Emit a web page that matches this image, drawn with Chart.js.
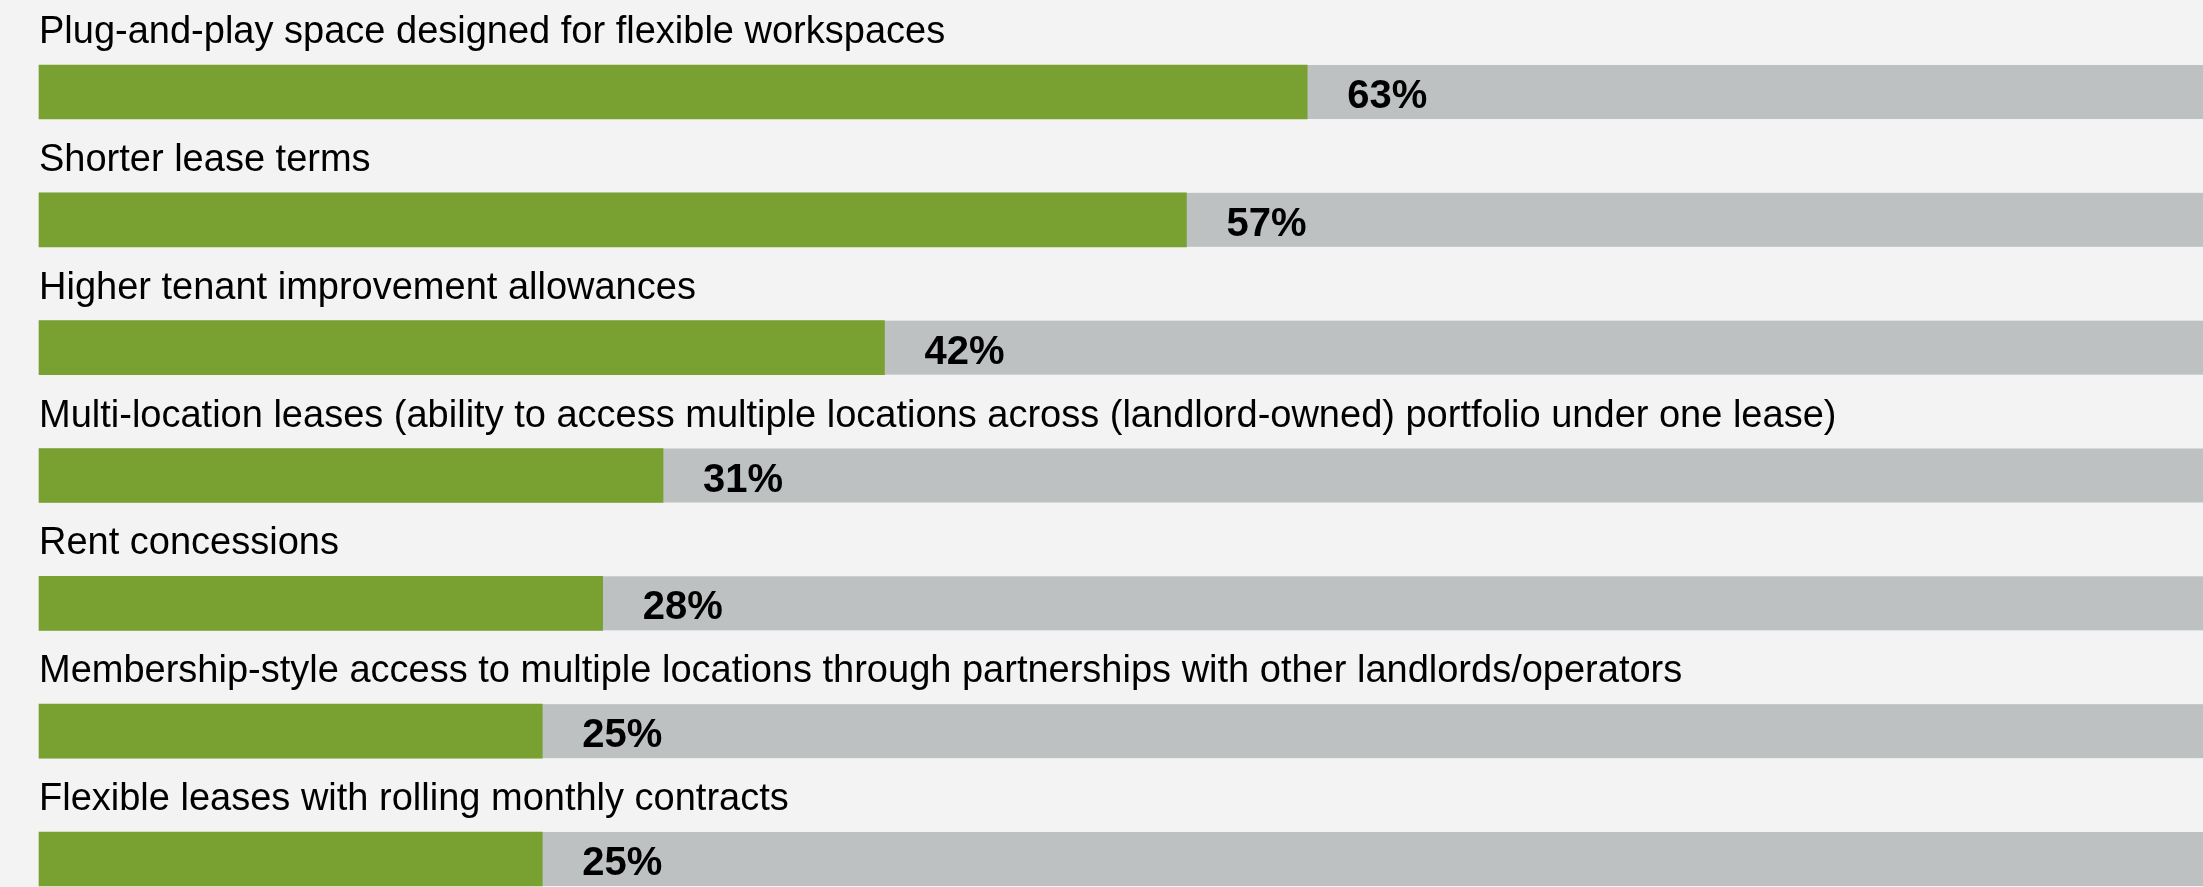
<!DOCTYPE html>
<html>
<head>
<meta charset="utf-8">
<script src="https://cdn.jsdelivr.net/npm/chart.js@4/dist/chart.umd.min.js"></script>
<style>
    html, body { margin: 0; padding: 0; background: #f3f3f3; overflow: hidden; }
    #wrap { width: 2203px; height: 887px; }
</style>
</head>
<body>
<div id="wrap"><canvas id="bars" width="2203" height="887"></canvas></div>
<script>
const categories = [
    'Plug-and-play space designed for flexible workspaces',
    'Shorter lease terms',
    'Higher tenant improvement allowances',
    'Multi-location leases (ability to access multiple locations across (landlord-owned) portfolio under one lease)',
    'Rent concessions',
    'Membership-style access to multiple locations through partnerships with other landlords/operators',
    'Flexible leases with rolling monthly contracts'
];
const shares = [63, 57, 42, 31, 28, 25, 25];
const valueLabels = ['63%', '57%', '42%', '31%', '28%', '25%', '25%'];

const GREEN = '#78a132';
const TRACK = '#bdc1c2';
const FONT = '"Liberation Sans", Arial, Helvetica, sans-serif';
const BAR_H = 54;

// grey track behind every bar, running to the right edge of the chart area
const trackPlugin = {
    id: 'track',
    beforeDatasetsDraw(chart) {
        const { ctx, chartArea } = chart;
        const meta = chart.getDatasetMeta(0);
        ctx.save();
        ctx.fillStyle = TRACK;
        meta.data.forEach(bar => {
            ctx.fillRect(chartArea.left, bar.y - bar.height / 2, chartArea.right - chartArea.left, bar.height);
        });
        ctx.restore();
    }
};

// category text above each bar and the percentage after it
const labelPlugin = {
    id: 'labels',
    afterDatasetsDraw(chart) {
        const { ctx, chartArea } = chart;
        const meta = chart.getDatasetMeta(0);
        ctx.save();
        ctx.fillStyle = '#000';
        ctx.textAlign = 'left';
        ctx.textBaseline = 'alphabetic';
        meta.data.forEach((bar, i) => {
            ctx.font = '38px ' + FONT;
            ctx.fillText(categories[i], chartArea.left, bar.y - bar.height / 2 - 22);
            ctx.font = 'bold 40px ' + FONT;
            ctx.fillText(valueLabels[i], bar.x + 40, bar.y + 16);
        });
        ctx.restore();
    }
};

new Chart(document.getElementById('bars').getContext('2d'), {
    type: 'bar',
    data: {
        labels: categories,
        datasets: [{
            data: shares,
            backgroundColor: GREEN,
            barThickness: BAR_H,
            borderWidth: 0,
            clip: false
        }]
    },
    options: {
        indexAxis: 'y',
        responsive: false,
        animation: false,
        devicePixelRatio: 1,
        layout: {
            padding: { left: 39, right: 0, top: 92, bottom: 28 }
        },
        scales: {
            x: { min: 0, max: 107.5, display: false, grid: { display: false } },
            y: { offset: false, display: false, grid: { display: false } }
        },
        plugins: {
            legend: { display: false },
            tooltip: { enabled: false }
        }
    },
    plugins: [trackPlugin, labelPlugin]
});
</script>
</body>
</html>
